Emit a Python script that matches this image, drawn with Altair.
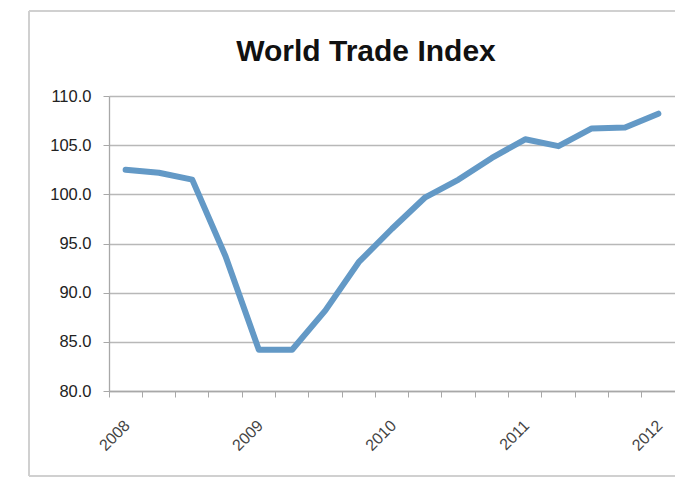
import altair as alt
import pandas as pd

periods = [
    "2008 Q1", "2008 Q2", "2008 Q3", "2008 Q4",
    "2009 Q1", "2009 Q2", "2009 Q3", "2009 Q4",
    "2010 Q1", "2010 Q2", "2010 Q3", "2010 Q4",
    "2011 Q1", "2011 Q2", "2011 Q3", "2011 Q4",
    "2012 Q1",
]
values = [102.5, 102.2, 101.5, 93.7, 84.2, 84.2, 88.2, 93.1, 96.5,
          99.7, 101.5, 103.7, 105.6, 104.9, 106.7, 106.8, 108.2]
y_ticks = [80, 85, 90, 95, 100, 105, 110]

df = pd.DataFrame({"period": periods, "value": values})

W = 566
H = 295

line = alt.Chart(df).mark_line(
    color="#6399c6", strokeWidth=6, strokeJoin="round", strokeCap="round"
).encode(
    x=alt.X(
        "period:N",
        sort=periods,
        bandPosition=0.5,
        scale=alt.Scale(type="band", paddingInner=0, paddingOuter=0),
        axis=alt.Axis(
            title=None,
            bandPosition=0,
            labelOffset=-4,
            labelAngle=-45,
            labelAlign="right",
            labelBaseline="top",
            labelPadding=20,
            labelExpr="indexof(datum.value, 'Q1') >= 0 ? substring(datum.value, 0, 4) : ''",
            labelOverlap=False,
            labelFont="Liberation Sans",
            labelFontSize=16,
            labelColor="#444444",
            tickSize=6,
            tickColor="#a8a8a8",
            domainColor="#a8a8a8",
            domainWidth=1.3,
            grid=False,
        ),
    ),
    y=alt.Y(
        "value:Q",
        scale=alt.Scale(domain=[80, 110], nice=False, zero=False),
        axis=alt.Axis(
            title=None,
            values=y_ticks,
            format=".1f",
            labelFont="Liberation Sans",
            labelFontSize=16.5,
            labelColor="#222222",
            labelPadding=12,
            tickSize=6,
            tickColor="#a8a8a8",
            domainColor="#a8a8a8",
            domainWidth=1.3,
            grid=True,
            gridColor="#b8b8b8",
            gridWidth=1.3,
        ),
    ),
)

one = pd.DataFrame({"a": [0]})
frame_color = "#d0d0d0"
frame_left = alt.Chart(one).mark_rule(color=frame_color, strokeWidth=2).encode(
    x=alt.value(-80), y=alt.value(-85), y2=alt.value(H + 85)
)
frame_top = alt.Chart(one).mark_rule(color=frame_color, strokeWidth=2).encode(
    x=alt.value(-80), x2=alt.value(W + 20), y=alt.value(-85)
)
frame_bottom = alt.Chart(one).mark_rule(color=frame_color, strokeWidth=2).encode(
    x=alt.value(-80), x2=alt.value(W + 20), y=alt.value(H + 85)
)

chart = alt.layer(frame_left, frame_top, frame_bottom, line).properties(
    width=W,
    height=H,
    autosize="none",
    padding={"left": 109, "top": 96, "right": 0, "bottom": 87},
    title=alt.Title(
        "World Trade Index",
        font="Liberation Sans",
        fontSize=30,
        fontWeight="bold",
        color="#111111",
        anchor="middle",
        dx=-26,
        offset=-57,
    ),
).configure_view(strokeWidth=0)

chart.save("out.html", embed_options={"renderer": "svg", "actions": False})
